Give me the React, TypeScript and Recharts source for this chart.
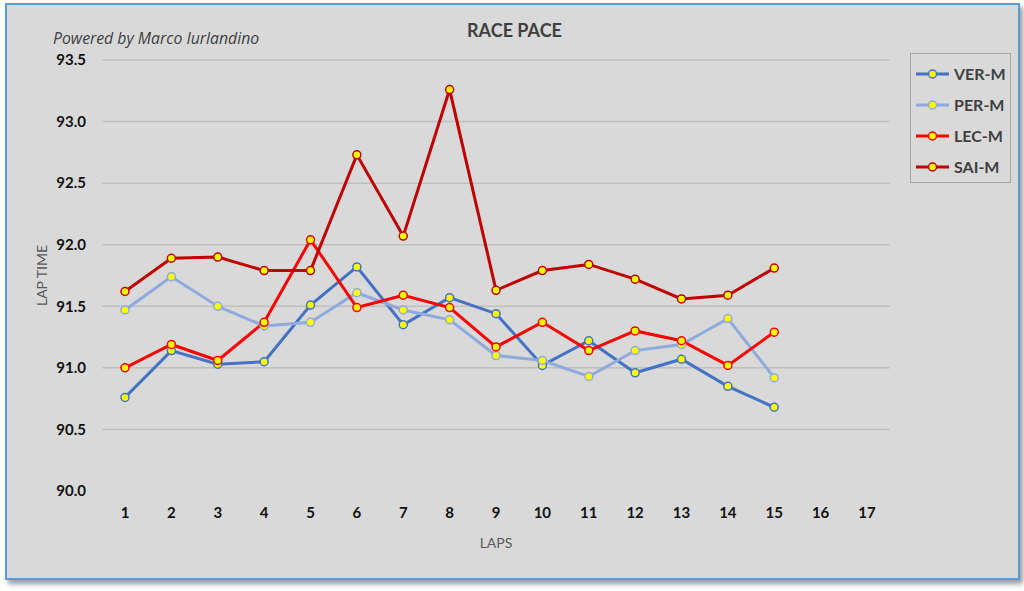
import { LineChart, Line, XAxis, YAxis, ReferenceLine, Legend } from "recharts";

const laps = ["1", "2", "3", "4", "5", "6", "7", "8", "9", "10", "11", "12", "13", "14", "15", "16", "17"];

const verM = [90.76, 91.14, 91.03, 91.05, 91.51, 91.82, 91.35, 91.57, 91.44, 91.02, 91.22, 90.96, 91.07, 90.85, 90.68];
const perM = [91.47, 91.74, 91.5, 91.34, 91.37, 91.61, 91.47, 91.39, 91.1, 91.06, 90.93, 91.14, 91.19, 91.4, 90.92];
const lecM = [91.0, 91.19, 91.06, 91.37, 92.04, 91.49, 91.59, 91.49, 91.17, 91.37, 91.14, 91.3, 91.22, 91.02, 91.29];
const saiM = [91.62, 91.89, 91.9, 91.79, 91.79, 92.73, 92.07, 93.26, 91.63, 91.79, 91.84, 91.72, 91.56, 91.59, 91.81];

const yTicks = [90, 90.5, 91, 91.5, 92, 92.5, 93, 93.5];
const gridValues = [90.5, 91, 91.5, 92, 92.5, 93, 93.5];

const series = [
  { key: "VER-M", color: "#4472C4" },
  { key: "PER-M", color: "#8FAADC" },
  { key: "LEC-M", color: "#FF0000" },
  { key: "SAI-M", color: "#C00000" },
];

const data = laps.map((lap, i) => ({
  lap,
  "VER-M": verM[i] ?? null,
  "PER-M": perM[i] ?? null,
  "LEC-M": lecM[i] ?? null,
  "SAI-M": saiM[i] ?? null,
}));

const font = "Lato, 'Open Sans', sans-serif";
const tick = { fontFamily: font, fontSize: 15, fontWeight: 700, fill: "#111" };

function LegendBox() {
  return (
    <div
      style={{
        width: 101,
        height: 130,
        border: "1px solid #A6A6A6",
        boxSizing: "border-box",
        paddingTop: 4,
        fontFamily: font,
      }}
    >
      {series.map((s) => (
        <div key={s.key} style={{ display: "flex", alignItems: "center", height: 31 }}>
          <svg width={38} height={12} style={{ marginLeft: 5 }}>
            <line x1={0} y1={6} x2={33} y2={6} stroke={s.color} strokeWidth={3} />
            <circle cx={16.5} cy={6} r={4} fill="#FFFF00" stroke={s.color} strokeWidth={1.5} />
          </svg>
          <span style={{ fontSize: 16, fontWeight: 700, color: "#404040" }}>{s.key}</span>
        </div>
      ))}
    </div>
  );
}

export default function App() {
  return (
    <div style={{ position: "fixed", left: 0, top: 0, width: 1024, height: 591, background: "#fff" }}>
      <div
        style={{
          position: "absolute",
          left: 5,
          top: 3,
          width: 1015,
          height: 577,
          background: "#D9D9D9",
          boxShadow: "inset 0 0 0 2px #5B9BD5, 3px 4px 5px rgba(0,0,0,0.4)",
        }}
      >
        <div
          style={{
            position: "absolute",
            left: 0,
            width: 1015,
            top: 16,
            textAlign: "center",
            fontFamily: font,
            fontWeight: 700,
            fontSize: 18,
            color: "#404040",
            paddingLeft: 2,
          }}
        >
          RACE PACE
        </div>
        <div
          style={{
            position: "absolute",
            left: 48,
            top: 24,
            fontFamily: "'Open Sans', sans-serif",
            fontStyle: "italic",
            fontSize: 15.8,
            color: "#404040",
          }}
        >
          Powered by Marco Iurlandino
        </div>
        <LineChart width={1015} height={577} data={data} margin={{ top: 57, right: 130, bottom: 59, left: 0 }}>
          <XAxis
            dataKey="lap"
            height={30}
            axisLine={false}
            tickLine={false}
            tick={tick}
            tickMargin={10}
            interval={0}
            padding={{ left: 23, right: 23 }}
            label={{ value: "LAPS", position: "bottom", offset: 17, style: { fontFamily: font, fontSize: 14, fill: "#595959" } }}
          />
          <YAxis
            width={97}
            domain={[90, 93.5]}
            ticks={yTicks}
            interval={0}
            axisLine={false}
            tickLine={false}
            tick={tick}
            tickMargin={10}
            tickFormatter={(v: number) => v.toFixed(1)}
            label={{ value: "LAP TIME", angle: -90, position: "insideLeft", offset: 37, style: { fontFamily: font, fontSize: 14, fill: "#595959", textAnchor: "middle" } }}
          />
          {gridValues.map((v) => (
            <ReferenceLine key={v} y={v} stroke="#BFBFBF" strokeWidth={1.5} />
          ))}
          {series.map((s) => (
            <Line
              key={s.key}
              dataKey={s.key}
              stroke={s.color}
              strokeWidth={3}
              dot={{ r: 4, fill: "#FFFF00", stroke: s.color, strokeWidth: 1.5 }}
              isAnimationActive={false}
              type="linear"
            />
          ))}
          <Legend
            layout="vertical"
            align="center"
            verticalAlign="middle"
            content={() => <LegendBox />}
            wrapperStyle={{ left: 905, top: 50, width: 101, height: 130 }}
          />
        </LineChart>
      </div>
    </div>
  );
}
